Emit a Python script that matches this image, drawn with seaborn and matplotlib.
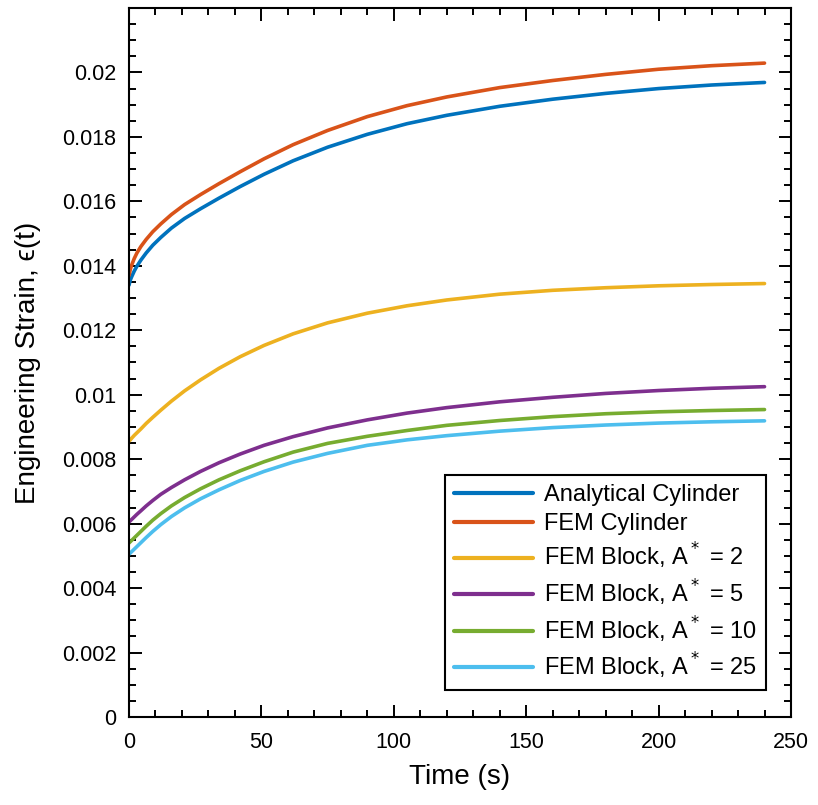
import matplotlib
matplotlib.use("Agg")
import matplotlib.pyplot as plt
import pandas as pd
import seaborn as sns
from matplotlib.ticker import MultipleLocator, FuncFormatter

# Creep strain histories (time in seconds, engineering strain)
time_s = [0, 0.5, 1, 2, 3, 4.5, 6.5, 9, 12, 16, 21, 27, 34, 42, 51, 62, 75, 90,
          105, 120, 140, 160, 180, 200, 220, 240]

analytical_cylinder = [0.01340, 0.01356, 0.01366, 0.01384, 0.01399, 0.01418, 0.01440, 0.01464,
                       0.01488, 0.01517, 0.01547, 0.01577, 0.01610, 0.01646, 0.01684, 0.01726,
                       0.01768, 0.01808, 0.01841, 0.01867, 0.01895, 0.01917, 0.01935, 0.01950,
                       0.01961, 0.01969]
fem_cylinder = [0.01370, 0.01389, 0.01402, 0.01423, 0.01440, 0.01460, 0.01482, 0.01506,
                0.01530, 0.01559, 0.01590, 0.01621, 0.01655, 0.01692, 0.01732, 0.01776,
                0.01820, 0.01863, 0.01897, 0.01924, 0.01953, 0.01975, 0.01994, 0.02010,
                0.02021, 0.02029]
fem_block_a2 = [0.00856, 0.00860, 0.00865, 0.00874, 0.00882, 0.00894, 0.00911, 0.00930,
                0.00952, 0.00980, 0.01012, 0.01046, 0.01082, 0.01118, 0.01153, 0.01189,
                0.01223, 0.01253, 0.01276, 0.01294, 0.01312, 0.01324, 0.01332, 0.01338,
                0.01342, 0.01345]
fem_block_a5 = [0.00605, 0.00609, 0.00613, 0.00621, 0.00629, 0.00640, 0.00655, 0.00672,
                0.00691, 0.00712, 0.00736, 0.00762, 0.00789, 0.00816, 0.00843, 0.00870,
                0.00897, 0.00922, 0.00943, 0.00960, 0.00978, 0.00992, 0.01004, 0.01013,
                0.01020, 0.01025]
fem_block_a10 = [0.00540, 0.00544, 0.00548, 0.00556, 0.00564, 0.00576, 0.00592, 0.00611,
                 0.00631, 0.00655, 0.00681, 0.00708, 0.00736, 0.00764, 0.00792, 0.00822,
                 0.00849, 0.00871, 0.00889, 0.00905, 0.00920, 0.00932, 0.00941, 0.00947,
                 0.00951, 0.00954]
fem_block_a25 = [0.00505, 0.00509, 0.00513, 0.00521, 0.00529, 0.00541, 0.00557, 0.00576,
                 0.00597, 0.00622, 0.00649, 0.00677, 0.00705, 0.00734, 0.00762, 0.00791,
                 0.00818, 0.00843, 0.00860, 0.00873, 0.00887, 0.00898, 0.00906, 0.00912,
                 0.00916, 0.00919]

series_labels = ["Analytical Cylinder", "FEM Cylinder",
                 "FEM Block, A$^*$ = 2", "FEM Block, A$^*$ = 5",
                 "FEM Block, A$^*$ = 10", "FEM Block, A$^*$ = 25"]
series_values = [analytical_cylinder, fem_cylinder, fem_block_a2,
                 fem_block_a5, fem_block_a10, fem_block_a25]
colors = ["#0072BD", "#D95319", "#EDB120", "#7E2F8E", "#77AC30", "#4DBEEE"]

x_ticks = [0, 50, 100, 150, 200, 250]
y_ticks = [0, 0.002, 0.004, 0.006, 0.008, 0.01, 0.012, 0.014, 0.016, 0.018, 0.02]

sns.set_theme(style="ticks")
plt.rcParams["font.family"] = ["Liberation Sans", "DejaVu Sans"]
plt.rcParams["mathtext.fontset"] = "dejavusans"
for key in ["text.color", "axes.labelcolor", "xtick.color", "ytick.color", "axes.edgecolor"]:
    plt.rcParams[key] = "black"

df = pd.concat(
    [pd.DataFrame({"Time": time_s, "Strain": vals, "Series": lab})
     for lab, vals in zip(series_labels, series_values)],
    ignore_index=True,
)

fig = plt.figure(figsize=(8.18, 8.05), dpi=100)
ax = fig.add_axes([129 / 818, 88 / 805, 662 / 818, 709 / 805])

sns.lineplot(data=df, x="Time", y="Strain", hue="Series", hue_order=series_labels,
             palette=colors, estimator=None, sort=False, linewidth=2.6, ax=ax)

ax.set_xlim(0, 250)
ax.set_ylim(0, 0.022)
ax.set_xticks(x_ticks)
ax.set_yticks(y_ticks)
ax.xaxis.set_minor_locator(MultipleLocator(10))
ax.yaxis.set_minor_locator(MultipleLocator(0.0005))
ax.yaxis.set_major_formatter(FuncFormatter(lambda v, p: f"{v:g}"))

for side in ["left", "right", "top", "bottom"]:
    ax.spines[side].set_visible(True)
    ax.spines[side].set_linewidth(1.5)
    ax.spines[side].set_color("black")

ax.tick_params(which="both", direction="in", top=True, right=True,
               width=1.4, color="black", labelcolor="black", labelsize=15.5)
ax.tick_params(which="major", length=9)
ax.tick_params(which="minor", length=4.8)
ax.tick_params(axis="y", pad=9)
ax.tick_params(axis="x", pad=11)

ax.set_xlabel("Time (s)", fontsize=20, labelpad=8)
ax.set_ylabel("Engineering Strain, \u03f5(t)", fontsize=20, labelpad=15)

handles, _ = ax.get_legend_handles_labels()
leg = ax.legend(handles, series_labels, loc="lower right", bbox_to_anchor=(0.962, 0.038),
                frameon=True, fancybox=False, shadow=False, framealpha=1,
                edgecolor="black", fontsize=17, handlelength=3.35,
                borderpad=0.38, labelspacing=0.27, handletextpad=0.47, borderaxespad=0)
leg.get_frame().set_linewidth(1.5)
for line in leg.get_lines():
    line.set_linewidth(3)

fig.savefig("out.png", dpi=100)
